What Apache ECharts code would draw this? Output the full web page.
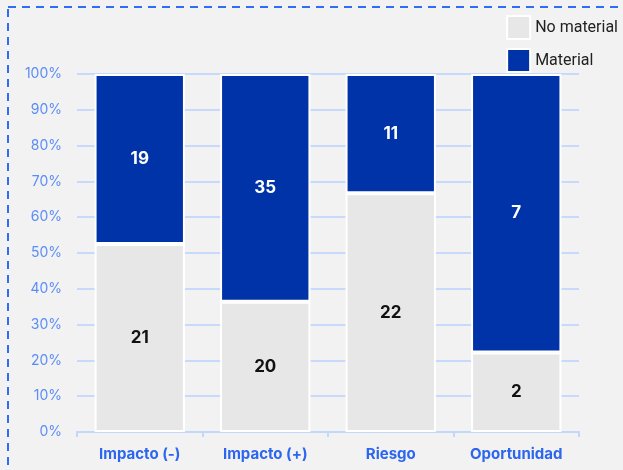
<!DOCTYPE html>
<html><head><meta charset="utf-8">
<script src="https://cdn.jsdelivr.net/npm/echarts@6/dist/echarts.min.js"></script>
<style>html,body{margin:0;padding:0;background:#f2f2f2;}#c{width:623px;height:470px;}</style>
</head><body><div id="c"></div>
<script>
const categories = ['Impacto (-)', 'Impacto (+)', 'Riesgo', 'Oportunidad'];
const noMaterial = [21, 20, 22, 2];
const material = [19, 35, 11, 7];
const yTicks = ['0%','10%','20%','30%','40%','50%','60%','70%','80%','90%','100%'];

const totals = categories.map((c, i) => noMaterial[i] + material[i]);
const pctNo = noMaterial.map((v, i) => v / totals[i] * 100);
const pctMat = material.map((v, i) => v / totals[i] * 100);

const chart = echarts.init(document.getElementById('c'));
chart.setOption({
  backgroundColor: '#f2f2f2',
  animation: false,
  graphic: [{
    type: 'rect', silent: true, z: 100,
    shape: { x: 8, y: 7, width: 700, height: 600 },
    style: { fill: 'none', stroke: '#2f6df6', lineWidth: 2, lineDash: [8, 6] }
  }],
  legend: {
    orient: 'vertical', right: 0, top: 10,
    icon: 'rect',
    itemWidth: 23, itemHeight: 23, itemGap: 8,
    textStyle: { fontFamily: 'Roboto', fontSize: 16, color: '#222' },
    data: ['No material', 'Material']
  },
  grid: { left: 77, right: 44, top: 74, bottom: 38 },
  xAxis: {
    type: 'category', data: categories,
    axisLine: { lineStyle: { color: '#c3d6fb', width: 2 } },
    axisTick: { show: true, length: 5, lineStyle: { color: '#c3d6fb', width: 2 } },
    axisLabel: { color: '#2c66ef', fontFamily: 'Inter', fontWeight: 'bold', fontSize: 15, margin: 15 }
  },
  yAxis: {
    type: 'value', min: 0, max: 100, interval: 10,
    axisLabel: { color: '#5b8cf7', fontFamily: 'Inter', fontSize: 14, margin: 15,
      formatter: v => yTicks[Math.round(v / 10)] },
    splitLine: { lineStyle: { color: '#c8dafc', width: 2 } },
    axisLine: { show: false }, axisTick: { show: false }
  },
  series: [
    {
      name: 'No material', type: 'bar', stack: 's', data: pctNo, barWidth: '72%',
      itemStyle: { color: '#e7e7e7', borderColor: '#ffffff', borderWidth: 2 },
      label: { show: true, position: 'inside', color: '#111', fontFamily: 'Inter', fontWeight: 'bold', fontSize: 17,
        formatter: p => noMaterial[p.dataIndex] }
    },
    {
      name: 'Material', type: 'bar', stack: 's', data: pctMat, barWidth: '72%',
      itemStyle: { color: '#0033a8', borderColor: '#ffffff', borderWidth: 2 },
      label: { show: true, position: 'inside', color: '#ffffff', fontFamily: 'Inter', fontWeight: 'bold', fontSize: 17,
        formatter: p => material[p.dataIndex] }
    }
  ]
});
</script></body></html>
